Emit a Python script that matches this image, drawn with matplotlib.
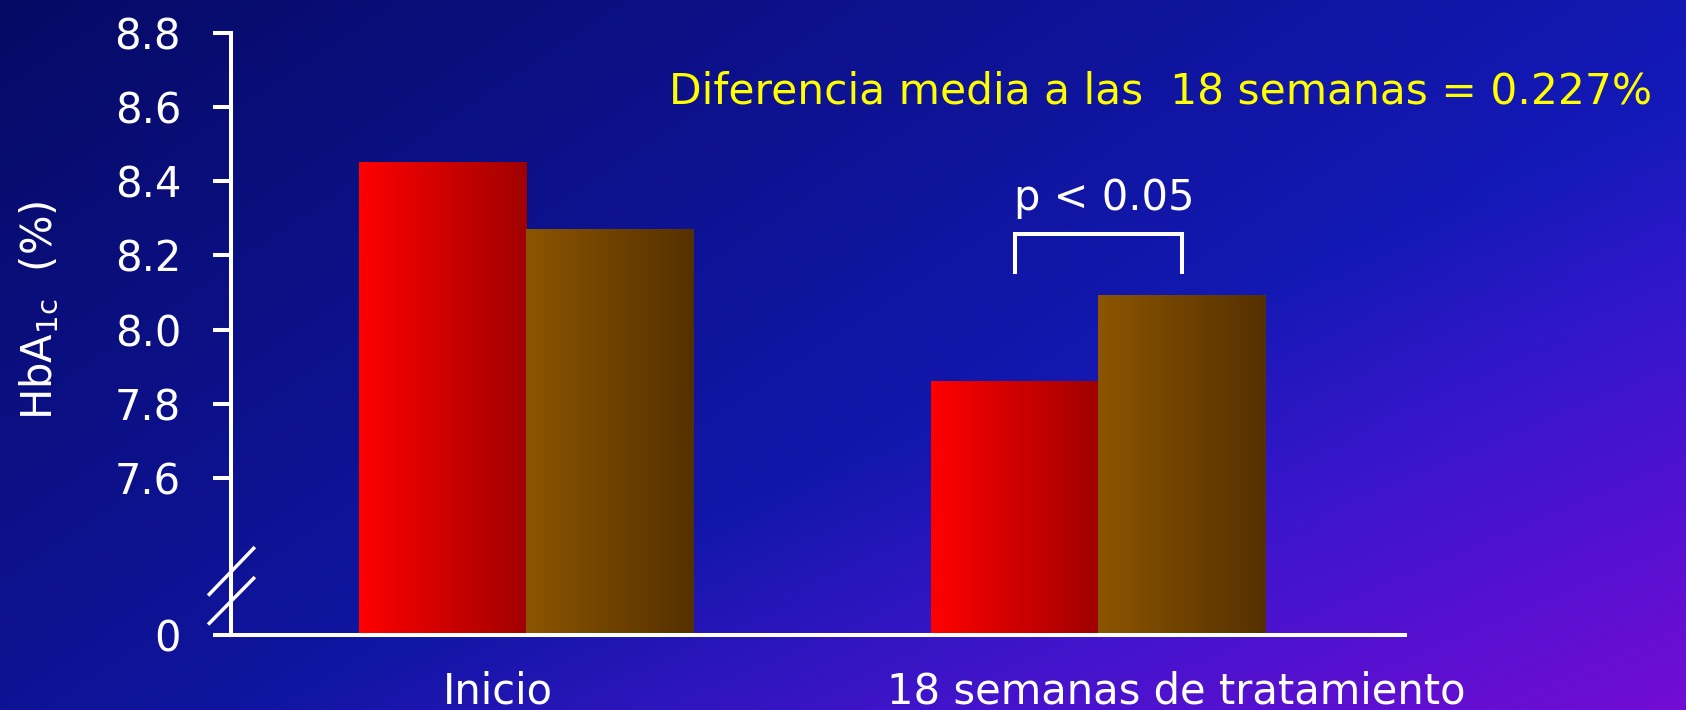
import numpy as np
import matplotlib
matplotlib.use('Agg')
import matplotlib.pyplot as plt
from matplotlib.colors import LinearSegmentedColormap
from matplotlib.transforms import blended_transform_factory

groups = ['Inicio', '18 semanas de tratamiento']
serie_roja = [8.45, 7.86]
serie_marron = [8.27, 8.09]
y_ticks = [7.6, 7.8, 8.0, 8.2, 8.4, 8.6, 8.8]
y_cero = 7.175  # posición del "0" en el eje cortado
p_texto = 'p < 0.05'
nota = 'Diferencia media a las  18 semanas = 0.227%'

W, H = 1686, 710
FS = 30
fig = plt.figure(figsize=(W / 100, H / 100), dpi=100)

# fondo degradado azul -> violeta
bg = fig.add_axes([0, 0, 1, 1], zorder=-10)
u = np.linspace(0, 1, W)[None, :]
v = np.linspace(0, 1, H)[:, None]
s = np.clip(0.8 * u + 0.5 * v, 0, 1)
w = np.clip((u + v - 1.15) / 0.85, 0, 1)
oscuro = np.array([6, 10, 100]) / 255
azul = np.array([22, 28, 198]) / 255
violeta = np.array([115, 12, 212]) / 255
base = oscuro + (azul - oscuro) * s[..., None]
img = base + (violeta - base) * w[..., None]
bg.imshow(img, aspect='auto', extent=[0, 1, 0, 1], origin='upper')
bg.axis('off')

ax = fig.add_axes([231 / W, 1 - 635.4 / H, (1405 - 231) / W, (635.4 - 33.1) / H])
ax.patch.set_alpha(0)

x = np.arange(len(groups))
bw = 0.292
barras_r = ax.bar(x - bw / 2, np.array(serie_roja) - y_cero, bw, bottom=y_cero)
barras_m = ax.bar(x + bw / 2, np.array(serie_marron) - y_cero, bw, bottom=y_cero)

cmap_r = LinearSegmentedColormap.from_list('rojo', ['#ff0000', '#a00000'])
cmap_m = LinearSegmentedColormap.from_list('marron', ['#8c5500', '#553000'])
grad = np.linspace(0, 1, 256)[None, :]
for barras, cmap in ((barras_r, cmap_r), (barras_m, cmap_m)):
    for p in barras:
        x0, y0, bw_, bh = p.get_x(), p.get_y(), p.get_width(), p.get_height()
        ax.imshow(grad, cmap=cmap, aspect='auto', extent=[x0, x0 + bw_, y0, y0 + bh], zorder=2)
        p.set_visible(False)

ax.set_xlim(-0.5166, 1.536)
ax.set_ylim(y_cero, 8.8)

ax.set_yticks([y_cero] + y_ticks, ['0'] + [f'{t:.1f}' for t in y_ticks])
ax.set_xticks([])
ax.tick_params(axis='y', colors='white', length=13, width=2.9, pad=23, labelsize=FS)
for lado in ('top', 'right'):
    ax.spines[lado].set_visible(False)
for lado in ('left', 'bottom'):
    ax.spines[lado].set_color('white')
    ax.spines[lado].set_linewidth(2.9)
    ax.spines[lado].set_zorder(5)

# marcas de corte del eje
for y1, y2 in ((0.0682, 0.1446), (0.0201, 0.0948)):
    ax.plot([-0.0185, 0.0193], [y1, y2], transform=ax.transAxes, color='white',
            lw=2.5, clip_on=False, zorder=6)

# corchete de significación
xa, xb = x[1] - bw / 2, x[1] + bw / 2
ax.plot([xa, xa, xb, xb], [8.156, 8.257, 8.257, 8.156], color='white', lw=2.9,
        solid_joinstyle='miter', clip_on=False)
ax.text(x[1] + 0.01, 8.323, p_texto, color='white', fontsize=FS, ha='center', va='baseline')

# etiquetas de los grupos
tr = blended_transform_factory(ax.transData, fig.transFigure)
for xp, nombre in zip([-0.0507, 1.1355], groups):
    ax.text(xp, 1 - 704 / H, nombre, transform=tr, color='white', fontsize=FS,
            ha='center', va='baseline')

fig.text(40 / W, 1 - 310 / H, 'HbA$_\\mathregular{1c}$  (%)', rotation=90, color='white',
         fontsize=FS, ha='center', va='center')
fig.text(669 / W, 1 - 104 / H, nota, color='#ffff00', fontsize=30.5, va='baseline')

fig.savefig('out.png', dpi=100)
